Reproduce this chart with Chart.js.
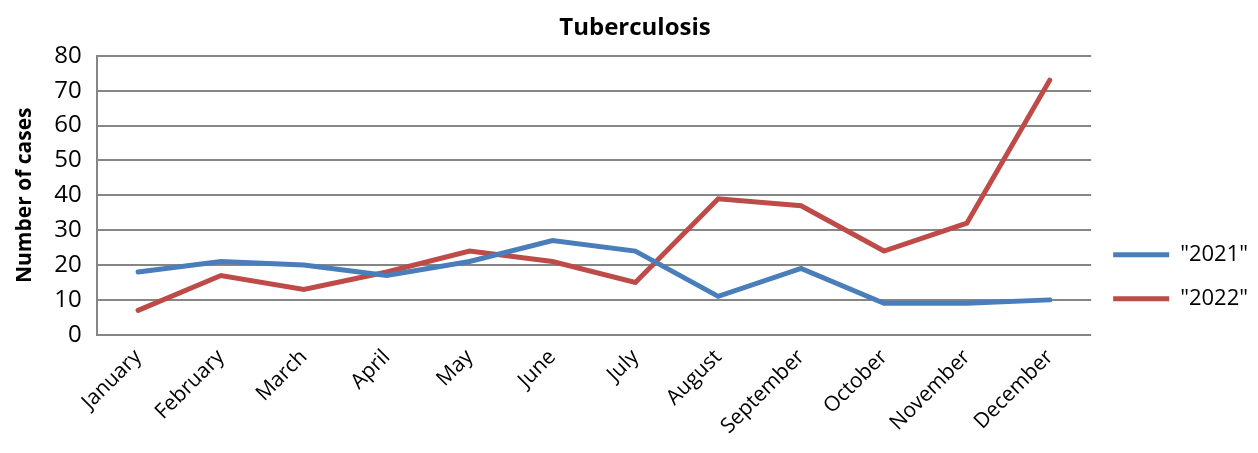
<!DOCTYPE html>
<html>
<head>
<meta charset="utf-8">
<script src="https://cdn.jsdelivr.net/npm/chart.js@4/dist/chart.umd.min.js"></script>
<style>
  html, body { margin: 0; padding: 0; background: #fff; }
  #wrap { width: 1258px; height: 453px; }
</style>
</head>
<body>
<div id="wrap"><canvas id="tb"></canvas></div>
<script>
const months = ['January', 'February', 'March', 'April', 'May', 'June', 'July',
  'August', 'September', 'October', 'November', 'December'];
const cases2021 = [18, 21, 20, 17, 21, 27, 24, 11, 19, 9, 9, 10];
const cases2022 = [7, 17, 13, 18, 24, 21, 15, 39, 37, 24, 32, 73];

const font = '"Open Sans", sans-serif';
const gridGrey = '#868686';

const ctx = document.getElementById('tb').getContext('2d');
const tbChart = new Chart(ctx, {
  type: 'line',
  data: {
    labels: months,
    datasets: [{
      label: '"2021"',
      data: cases2021,
      borderColor: '#4a7ebb',
      backgroundColor: '#4a7ebb',
      borderWidth: 5,
      borderCapStyle: 'round',
      borderJoinStyle: 'miter',
      pointRadius: 0,
      tension: 0,
      fill: false,
    }, {
      label: '"2022"',
      data: cases2022,
      borderColor: '#be4b48',
      backgroundColor: '#be4b48',
      borderWidth: 5,
      borderCapStyle: 'round',
      borderJoinStyle: 'miter',
      pointRadius: 0,
      tension: 0,
      fill: false,
    }],
  },
  options: {
    responsive: true,
    maintainAspectRatio: false,
    animation: false,
    layout: { padding: { left: 12, right: 0, top: 2, bottom: 4 } },
    plugins: {
      title: {
        display: true,
        text: 'Tuberculosis',
        color: '#000',
        font: { family: font, size: 24, weight: 'bold' },
        padding: { top: 12, bottom: 13 },
      },
      legend: {
        position: 'right',
        title: { display: true, text: ' ', font: { size: 2 }, padding: { top: 100 } },
        labels: {
          color: '#000',
          font: { family: font, size: 22 },
          usePointStyle: true,
          pointStyle: 'line',
          pointStyleWidth: 56,
          padding: 22,
          boxHeight: 10,
        },
      },
      tooltip: { enabled: false },
    },
    scales: {
      x: {
        offset: true,
        grid: { display: false, drawTicks: false },
        border: { display: false },
        ticks: {
          color: '#000',
          font: { family: font, size: 21 },
          maxRotation: 45,
          minRotation: 45,
          padding: 10,
          autoSkip: false,
        },
      },
      y: {
        min: 0,
        max: 80,
        ticks: {
          stepSize: 10,
          color: '#000',
          font: { family: font, size: 24 },
          padding: 15,
        },
        grid: { color: gridGrey, lineWidth: 2, drawTicks: false },
        border: { display: true, color: gridGrey, width: 2 },
        title: {
          display: true,
          text: 'Number of cases',
          color: '#000',
          font: { family: font, size: 21, weight: 'bold' },
          padding: { top: 0, bottom: 2 },
        },
      },
    },
  },
});
</script>
</body>
</html>
